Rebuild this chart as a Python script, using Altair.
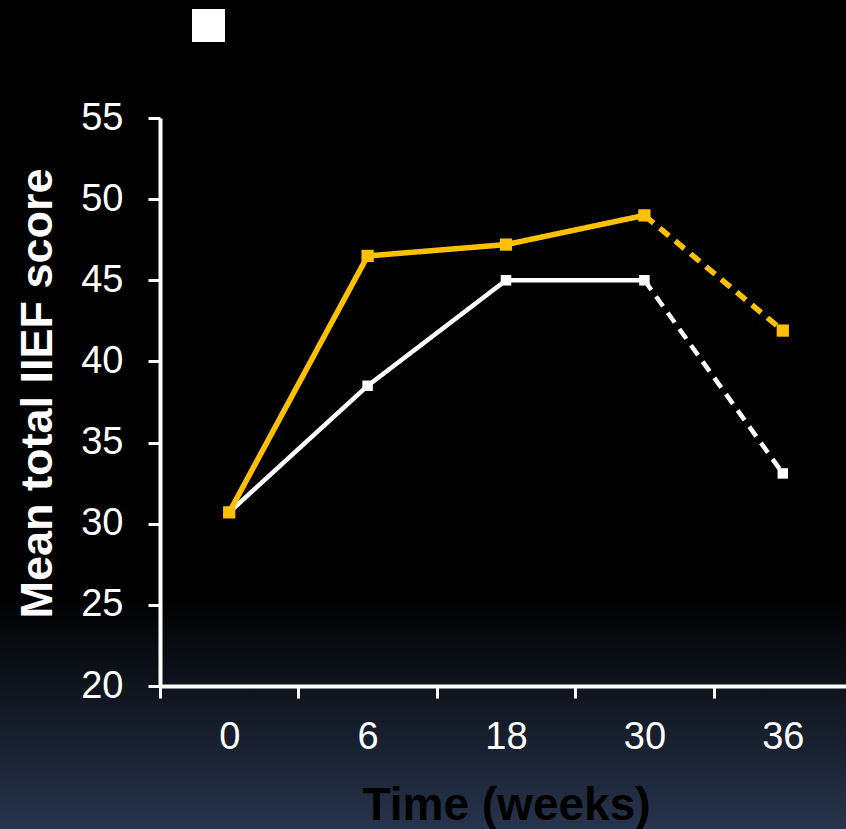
import altair as alt
import pandas as pd

# Visit labels (weeks) and mean total IIEF score per group
weeks = ["0", "6", "18", "30", "36"]
treated_scores = [30.7, 46.5, 47.2, 49.0, 41.9]
control_scores = [30.7, 38.5, 45.0, 45.0, 33.1]
last_on_treatment = "30"

series_names = ["Control", "Treated"]
series_colors = ["#FFFFFF", "#FFC000"]
series_values = {"Treated": treated_scores, "Control": control_scores}

W, H = 686, 568
PAD = {"left": 160, "top": 118, "right": 0, "bottom": 143}

rows = []
for name, vals in series_values.items():
    cut = weeks.index(last_on_treatment)
    for i, (wk, v) in enumerate(zip(weeks, vals)):
        if i <= cut:
            rows.append({"series": name, "week": wk, "score": v, "phase": "on treatment"})
        if i >= cut:
            rows.append({"series": name, "week": wk, "score": v, "phase": "follow-up"})
lines_df = pd.DataFrame(rows)
points_df = pd.DataFrame(
    [{"series": n, "week": wk, "score": v}
     for n, vals in series_values.items() for wk, v in zip(weeks, vals)]
)

axis_style = dict(
    zindex=1,
    grid=False,
    domainColor="white",
    domainWidth=4,
    tickColor="white",
    tickWidth=3,
    tickSize=12,
    labelColor="white",
    labelFont="Liberation Sans",
    labelFontSize=38,
    titleFont="Liberation Sans",
    titleFontWeight="bold",
)

x_enc = alt.X(
    "week:N",
    sort=weeks,
    bandPosition=0.5,
    scale=alt.Scale(type="band", domain=weeks, range=[0, 692], paddingInner=0, paddingOuter=0),
    axis=alt.Axis(
        title="Time (weeks)",
        labelAngle=0,
        tickBand="extent",
        labelPadding=20,
        titlePadding=27,
        titleColor="black",
        titleFontSize=46,
        **axis_style,
    ),
)
y_enc = alt.Y(
    "score:Q",
    scale=alt.Scale(domain=[20, 55], nice=False, zero=False),
    axis=alt.Axis(
        title="Mean total IIEF score",
        values=list(range(20, 56, 5)),
        labelPadding=25,
        titlePadding=20,
        titleColor="white",
        titleFontSize=45,
        titleY=275,
        **axis_style,
    ),
)

# One shared legend: a single white square, no label
color_enc = alt.Color(
    "series:N",
    scale=alt.Scale(domain=series_names, range=series_colors),
    legend=alt.Legend(
        values=["Control"],
        title=None,
        orient="none",
        legendX=32,
        legendY=-109,
        symbolType="square",
        symbolSize=1089,
        symbolStrokeWidth=0,
        symbolOpacity=1,
        symbolFillColor="#FFFFFF",
        labelFontSize=1,
        labelColor="#000000",
        labelExpr="''",
        padding=0,
        zindex=1,
    ),
)

# Slide-style background: black fading into dark slate at the bottom
background = alt.Chart(pd.DataFrame({"k": [0]})).mark_rect(
    color=alt.LinearGradient(
        gradient="linear",
        stops=[
            alt.GradientStop(color="#000000", offset=0),
            alt.GradientStop(color="#000000", offset=0.72),
            alt.GradientStop(color="#27344c", offset=1),
        ],
        x1=0, x2=0, y1=0, y2=1,
    )
).encode(
    x=alt.value(-PAD["left"]),
    x2=alt.value(W + 10),
    y=alt.value(-PAD["top"]),
    y2=alt.value(H + PAD["bottom"]),
)

layers = [background]
styles = {"Control": (4.5, 110), "Treated": (5.5, 150)}
for name in series_names:
    sw, sz = styles[name]
    line = alt.Chart(lines_df).transform_filter(
        alt.datum.series == name
    ).mark_line(strokeWidth=sw).encode(
        x=x_enc,
        y=y_enc,
        color=color_enc,
        strokeDash=alt.StrokeDash(
            "phase:N",
            scale=alt.Scale(domain=["on treatment", "follow-up"], range=[[1, 0], [12, 8]]),
            legend=None,
        ),
    )
    pts = alt.Chart(points_df).transform_filter(
        alt.datum.series == name
    ).mark_point(shape="square", filled=True, opacity=1, size=sz).encode(
        x=x_enc,
        y=y_enc,
        color=color_enc,
    )
    layers += [line, pts]

chart = alt.layer(*layers).properties(
    width=W,
    height=H,
    padding=PAD,
    autosize=alt.AutoSizeParams(type="none"),
    background="#000000",
).configure_view(
    stroke=None,
)

chart.save("out.html", embed_options={"renderer": "svg", "actions": False})
